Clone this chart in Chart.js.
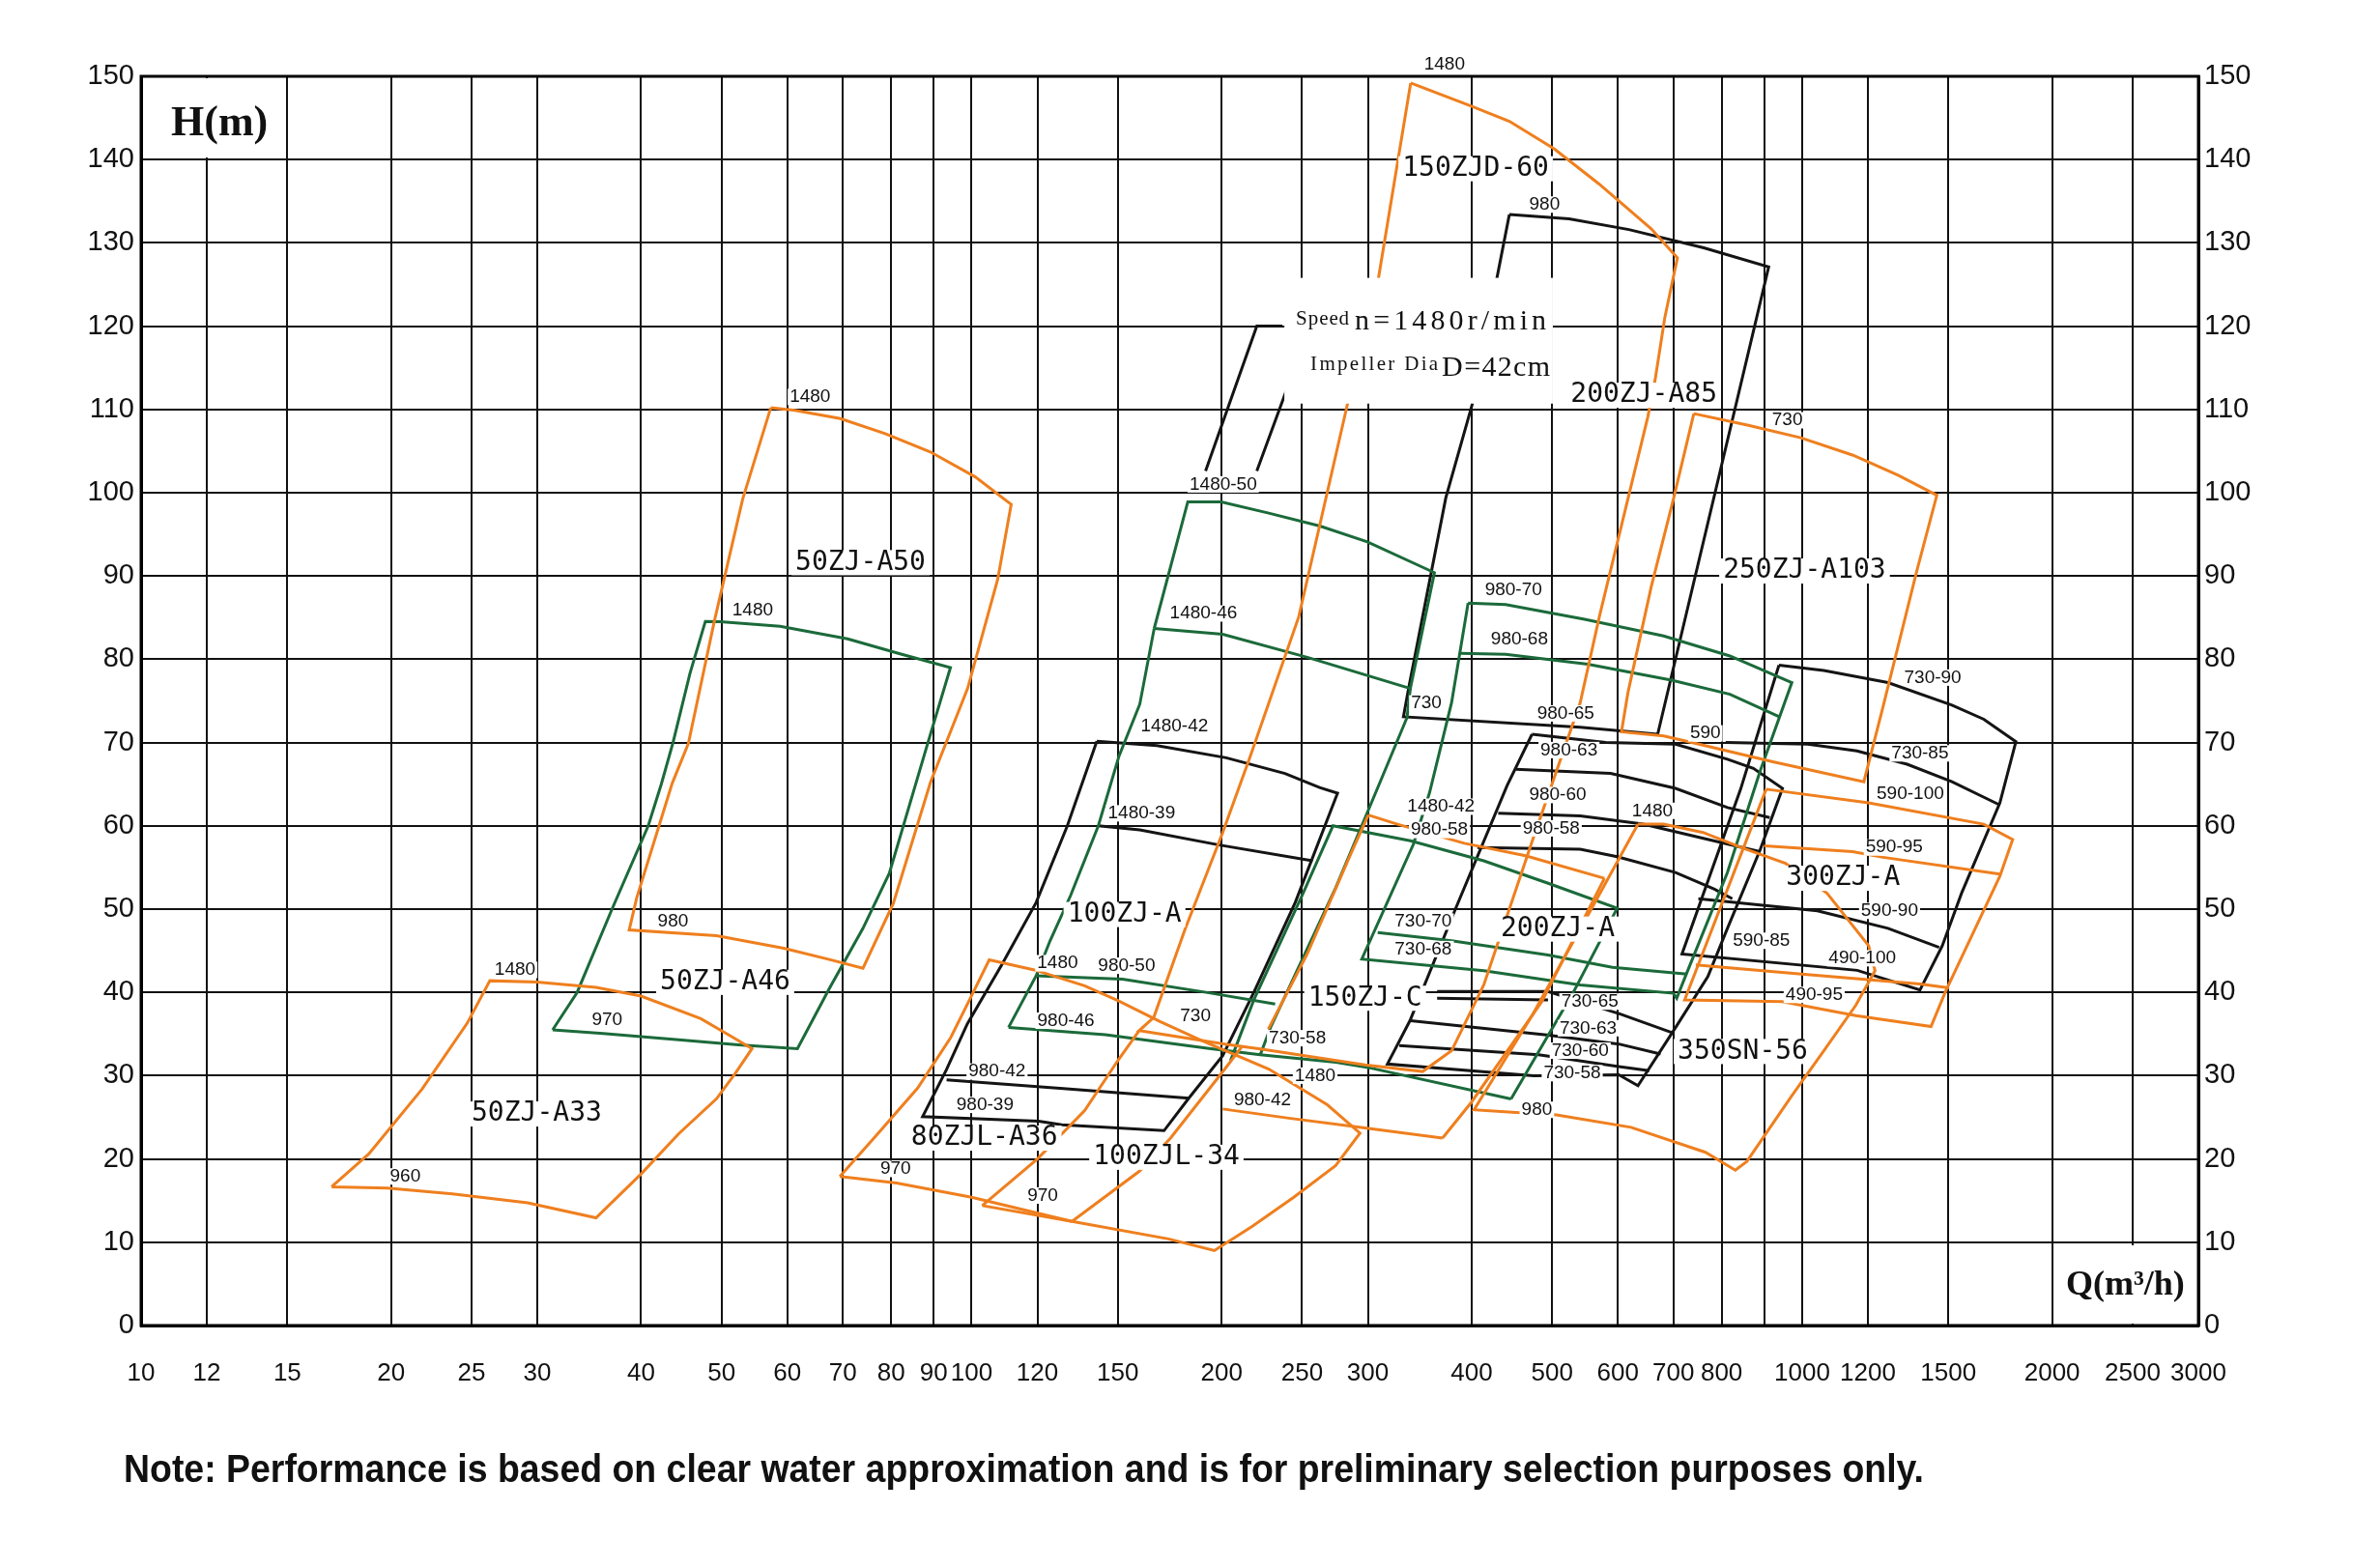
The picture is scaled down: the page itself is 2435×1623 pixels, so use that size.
<!DOCTYPE html>
<html>
<head>
<meta charset="utf-8">
<script src="https://cdn.jsdelivr.net/npm/chart.js@4.4.1/dist/chart.umd.min.js"></script>
<style>
  html, body { margin: 0; padding: 0; background: #fff; }
  #wrap { width: 2435px; height: 1623px; position: relative; }
</style>
</head>
<body>
<div id="wrap"><canvas id="pumpChart"></canvas></div>
<script>
// grid / tick values
const Q_GRID = [10,12,15,20,25,30,40,50,60,70,80,90,100,120,150,200,250,300,400,500,600,700,800,900,1000,1200,1500,2000,2500,3000];
const Q_LABELS = [10,12,15,20,25,30,40,50,60,70,80,90,100,120,150,200,250,300,400,500,600,700,800,1000,1200,1500,2000,2500,3000];

// ---- orange envelopes [Q m3/h, H m] ----
const O_50ZJ_A33 = [[16.96,16.65],[18.8,20.6],[21.8,28.4],[24.7,36.3],[26.3,41.4],[29.95,41.24],[35.3,40.6],[40.0,39.56],[47.2,36.85],[51.3,34.75],[54.4,33.25],[51.9,30.24],[49.3,27.23],[44.4,23.03],[40.0,18.2],[35.3,12.93],[29.2,14.73],[23.7,15.8],[19.8,16.5],[16.96,16.65]];
const O_50ZJ_A50 = [[57.3,110.2],[61.3,109.9],[69.5,108.9],[78.7,107.1],[89.2,104.9],[101,101.9],[111.6,98.6],[107.5,89.6],[98.9,76.5],[89.2,65.2],[80.5,50.7],[74.0,42.9],[67.4,43.95],[59.4,45.3],[49.3,46.8],[38.7,47.5],[39.5,51.3],[43.6,65.1],[45.6,69.9],[49.0,84.55],[53.0,99.2],[57.3,110.2]];
const O_80ZJL = [[69.4,17.9],[76.6,22.7],[86.1,28.5],[94.4,34.6],[100,39.6],[105,43.9],[119,42.7],[136.8,40.8],[150.2,39.0],[168.6,36.5],[189.3,34.2],[227.9,30.8],[268.1,26.5],[293.5,23.1],[274.4,19.2],[244.3,15.4],[217.6,11.9],[196,9.0],[172.6,10.4],[132.1,12.5],[100,15.4],[81.2,17.1],[69.4,17.9]];
const O_100ZJL_LEFT = [[103,14.4],[120,20.0],[136.8,25.8],[150.2,31.9],[159.1,35.4]];
const O_100ZJL_BOTTOM = [[103,14.4],[132.1,12.5]];
const O_100ZJL_RIGHT = [[132.1,12.5],[159.1,18.5],[173.6,22.5],[201.8,30.8],[212,33.6]];
const O_150ZJD_60 = [[337.8,149.2],[400.4,146.4],[444.1,144.6],[502.8,141.3],[569.1,137.1],[658.1,131.7],[707.7,128.2],[683.3,121.0],[665.1,113.5],[651.9,109.1],[570.2,85.2],[540.5,74.8],[472.9,58.1],[413.7,40.9],[378.4,33.0],[349.2,30.5],[297.6,31.3],[222.7,33.2],[201.8,33.8],[159.1,35.4],[165.7,37.0],[180.6,47.5],[200.6,59.2],[216.6,68.4],[247.7,85.1],[283.6,110.7],[309,125.8],[337.8,149.2]];
const O_150C_TOP = [[300.4,61.3],[325.6,60.2],[392,57.9],[464.5,56.4],[578,53.7]];
const O_150C_RIGHT = [[578,53.7],[486,38.9],[399.7,26.8],[369,22.5]];
const O_150C_LEFT = [[227.7,35.6],[253.5,44.6],[287.2,57.0],[300.4,61.3]];
const O_980_42 = [[200.6,26.0],[240.9,24.9],[293,23.8],[369,22.5]];
const O_200ZJ_A = [[634.4,60.2],[681,60.2],[760,59.2],[844,57.4],[954.8,55.5],[1071.5,51.9],[1202.5,45.6],[1224,42.6],[1160.5,38.45],[1062,33.0],[971.9,27.6],[858,19.7],[831,18.65],[765,20.8],[622.3,23.8],[506.1,25.3],[447.3,25.6],[402.7,25.9],[472.9,37.2],[540.5,47.6],[601.5,56.0],[634.4,60.2]];
const O_590_95 = [[900,57.6],[1150.2,56.9],[1246.1,56.25],[1730.2,54.2]];
const O_300ZJ_A = [[905.1,64.4],[1202.5,62.75],[1654.7,60.2],[1792.6,58.35],[1730.2,53.95],[1488,40.1],[1429.6,35.9],[1160.5,37.2],[946.2,38.9],[722,39.1],[905.1,64.4]];
const O_490_100 = [[744.7,43.3],[998.2,42.2],[1386.5,41.0],[1501.5,40.55]];
const O_250ZJ_A103 = [[740.6,109.5],[861.7,108.1],[996.3,106.6],[1151.8,104.5],[1304.7,102.1],[1452.8,99.7],[1373.4,90.5],[1251.4,74.3],[1186.7,65.3],[922,67.7],[744.7,69.9],[681.3,70.8],[606,71.3],[617,76.0],[658.1,88.7],[700.6,99.4],[740.6,109.5]];

// ---- green envelopes ----
const G_50ZJ_A46 = [[31.3,35.5],[36.0,35.05],[44.4,34.3],[52.4,33.7],[61.7,33.25],[67.4,40.46],[74.0,47.7],[79.6,54.3],[88.6,70],[94.3,79.0],[82.0,80.66],[70.9,82.46],[58.8,83.95],[49.8,84.5],[47.8,84.55],[45.8,78.3],[43.7,70],[42.3,65],[40.8,60],[36.9,50],[33.5,40],[31.3,35.5]];
const G_1480_50 = [[165.9,83.7],[182.1,98.9],[199.8,98.9],[227.9,97.55],[262.7,96.0],[299.6,94.1],[360.8,90.4],[337.5,76.5],[254.2,80.2],[200.6,83.0],[165.9,83.7]];
const G_LEFT = [[165.9,83.7],[159.4,74.6],[150.5,68.4],[142.1,60.0],[131.6,51.65],[124.3,46.2],[119.6,42.0],[110.8,35.8]];
const G_980_46 = [[110.8,35.8],[144.9,34.93],[193.1,33.26],[222.6,32.5],[274.6,31.6],[302.8,30.9],[446.2,27.2]];
const G_980_50 = [[119.6,42.0],[152.0,41.6],[193.1,39.95],[232,38.6]];
const G_RIGHT = [[337.5,76.5],[334.4,73.0],[311.4,65.6],[274.5,52.6],[229.3,35.9],[222.6,32.5]];
const G_1480_42 = [[205,31.8],[218.7,39.1],[233.9,45.4],[250,51.65],[272.3,60.0],[337.5,58.2],[413.7,55.8],[494.5,53.1],[598.8,50.1],[530.9,40.1],[446.2,27.2]];
const G_980_70 = [[396.1,86.75],[439.5,86.56],[547.1,84.8],[681,82.8],[818.5,80.4],[971.9,77.2],[889.6,66.5],[813,54.4],[723.3,41.9],[706.3,39.3],[699.8,39.9],[540.5,40.9],[413.7,42.6],[295,44.0],[340.4,57.8],[356,64.0],[378.4,74.8],[396.1,86.75]];
const G_980_68 = [[387.6,80.7],[439.5,80.6],[552,79.4],[696,77.5],[818.5,75.8],[938.6,73.1]];
const G_730_70 = [[308.3,47.2],[378.4,46.2],[494.3,44.5],[590.9,43.0],[727,42.2]];

// ---- black envelopes ----
const K_100ZJ_A = [[141.5,70.17],[167.2,69.63],[202.6,68.17],[238.4,66.29],[262.4,64.61],[275.8,63.92],[245.3,50.8],[218.7,40.0],[200.6,32.4],[182.3,27.2],[170.5,23.4],[128.4,24.1],[120.4,24.54],[87.3,25.08],[93.3,30.75],[98.8,36.2],[108.7,43.3],[119.6,50.8],[130.4,60.0],[141.5,70.17]];
const K_1480_39 = [[142.1,60.0],[159.4,59.5],[198.7,57.7],[257.4,55.8]];
const K_980_42 = [[93.3,29.5],[129,28.46],[182.8,27.3]];
const K_200ZJ_A85 = [[444.1,133.4],[524.1,132.9],[618.6,131.6],[761.3,129.4],[911.4,127.1],[670,71.0],[540.5,71.85],[331.1,73.1],[335.7,76.4],[372.4,99.4],[400.4,110.5],[444.1,133.4]];
const K_730_85 = [[809,70.0],[1016,69.8],[1164,69.0],[1337.7,67.4],[1514.9,65.3],[1730.2,62.5]];
const K_300ZJ_A = [[937.8,79.3],[1061.9,78.66],[1268.5,77.2],[1514.9,74.5],[1654.7,72.8],[1808.8,70.1],[1730.2,62.75],[1555.7,51.9],[1474.9,45.6],[1386.5,40.3],[1165,42.65],[716.7,44.6],[843.2,64.4],[937.8,79.3]];
const K_590_90 = [[750,51.25],[1043.3,49.8],[1268.5,47.7],[1462.1,45.4]];
const K_200ZJ_A = [[472.9,71.0],[580,70.0],[704,69.8],[813,68.0],[873.6,66.9],[947,64.5],[890,57.1],[813,47.7],[770,41.9],[704.3,35.8],[634.4,28.8],[601.5,30.1],[475,30.0],[316.7,31.4],[337.1,36.6],[382.4,50.0],[441.2,64.8],[472.9,71.0]];
const K_980_63 = [[452,66.8],[588,66.3],[704,64.5],[813,62.2],[914,61.0]];
const K_980_60 = [[430.6,61.5],[540.5,61.2],[643.5,60.2],[791.3,58.1],[889.6,56.9]];
const K_980_58 = [[406.4,57.4],[540.5,57.2],[598.9,56.3],[704,54.4],[784.3,52.4],[824,51.25]];
const K_730_65 = [[363.5,40.1],[494.3,40.1],[604,37.4],[700,35.1]];
const K_730_65B = [[363.5,39.3],[494.3,39.1]];
const K_730_63 = [[337.7,36.6],[492.6,34.9],[601.6,33.8],[675.4,32.6]];
const K_730_60 = [[327.3,33.6],[481.8,32.5],[601.6,31.1],[654.6,30.6]];
const K_LEADER_1 = [[236.7,120],[220.5,120],[191.3,102.6]];
const K_LEADER_2 = [[250.2,115.1],[244.7,114.9],[220.5,102.6]];

// ---- text labels [text, Q, H] ----
const MODEL_LABELS = [
  ['50ZJ-A50',73.5,91.6],['50ZJ-A46',50.5,41.2],['50ZJ-A33',29.95,25.4],
  ['100ZJ-A',152.8,49.35],['80ZJL-A36',103.6,22.5],['100ZJL-34',171.6,20.2],
  ['150ZJ-C',297.7,39.3],['200ZJ-A',507.8,47.6],['350SN-56',848.3,32.9],
  ['300ZJ-A',1120.2,53.7],['250ZJ-A103',1006.7,90.6],['200ZJ-A85',644.8,111.7],
  ['150ZJD-60',404.5,138.9]
];
const SPEED_LABELS = [
  ['1480',28.2,42.7],['960',20.8,17.9],['1480',54.5,85.9],['970',36.4,36.7],
  ['1480',63.9,111.5],['980',43.7,48.5],['1480-42',175.5,71.9],['1480-39',160.2,61.5],
  ['980-42',107.3,30.5],['980-39',103.8,26.5],['1480',126.9,43.5],['980-50',153.7,43.2],
  ['980-46',129.9,36.6],['970',81,18.8],['970',121.8,15.6],['730',186,37.1],
  ['730-58',246.8,34.5],['1480',259.2,30.0],['980-42',224,27.0],['1480-50',200.9,101.0],
  ['1480-46',190.2,85.5],['1480-42',367.4,62.3],['980-58',365.8,59.5],['730',352.8,74.7],
  ['730-70',349.8,48.5],['730-68',349.8,45.2],['980-70',449.2,88.3],['980-68',456.7,82.4],
  ['980-65',519.2,73.5],['980-63',523.9,69.1],['980-60',507.8,63.7],['980-58',498.8,59.7],
  ['1480',660.3,61.8],['730-65',555.1,38.9],['730-63',552.6,35.7],['730-60',540.5,33.0],
  ['730-58',528.6,30.3],['980',479.3,25.9],['980',489.6,134.6],['1480',371,151.4],
  ['730',959.8,108.7],['590',764.6,71.1],['730-90',1436.4,77.8],['730-85',1386.5,68.7],
  ['590-100',1349.9,63.8],['590-95',1291.1,57.4],['590-90',1274.2,49.8],['490-100',1181.5,44.1],
  ['490-95',1034,39.7],['590-85',893.3,46.2]
];

const ORANGE = '#ef7f1e';
const GREEN = '#1b6a3a';
const BLACK = '#141414';

const SERIES = [
  [O_50ZJ_A33, ORANGE],[O_50ZJ_A50, ORANGE],[O_80ZJL, ORANGE],[O_100ZJL_LEFT, ORANGE],
  [O_100ZJL_BOTTOM, ORANGE],[O_100ZJL_RIGHT, ORANGE],[O_150ZJD_60, ORANGE],[O_150C_TOP, ORANGE],
  [O_150C_RIGHT, ORANGE],[O_150C_LEFT, ORANGE],[O_980_42, ORANGE],
  [O_200ZJ_A, ORANGE],[O_590_95, ORANGE],[O_300ZJ_A, ORANGE],[O_490_100, ORANGE],[O_250ZJ_A103, ORANGE],
  [G_50ZJ_A46, GREEN],[G_1480_50, GREEN],[G_LEFT, GREEN],[G_980_46, GREEN],[G_980_50, GREEN],
  [G_RIGHT, GREEN],[G_1480_42, GREEN],[G_980_70, GREEN],[G_980_68, GREEN],[G_730_70, GREEN],
  [K_100ZJ_A, BLACK],[K_1480_39, BLACK],[K_980_42, BLACK],[K_200ZJ_A85, BLACK],[K_730_85, BLACK],
  [K_300ZJ_A, BLACK],[K_590_90, BLACK],[K_200ZJ_A, BLACK],[K_980_63, BLACK],[K_980_60, BLACK],
  [K_980_58, BLACK],[K_730_65, BLACK],[K_730_65B, BLACK],[K_730_63, BLACK],[K_730_60, BLACK],
  [K_LEADER_1, BLACK],[K_LEADER_2, BLACK]
];

function spaced(ctx, text, x0, y, width) {
  const chars = [...text];
  const ws = chars.map(c => ctx.measureText(c).width);
  const total = ws.reduce((a, b) => a + b, 0);
  const gap = chars.length > 1 ? (width - total) / (chars.length - 1) : 0;
  let x = x0;
  ctx.textAlign = 'left';
  chars.forEach((c, i) => { ctx.fillText(c, x, y); x += ws[i] + gap; });
}

function tag(ctx, text, x, y, font, padX, boxH) {
  ctx.font = font;
  const w = ctx.measureText(text).width;
  ctx.fillStyle = '#fff';
  ctx.fillRect(x - w / 2 - padX, y - boxH / 2, w + 2 * padX, boxH);
  ctx.fillStyle = '#111';
  ctx.textAlign = 'center';
  ctx.textBaseline = 'middle';
  ctx.fillText(text, x, y);
}

const boxesPlugin = {
  id: 'boxesPlugin',
  beforeDatasetsDraw(chart) {
    const { ctx, chartArea: a } = chart;
    ctx.save();
    ctx.fillStyle = '#fff';
    // blank corners behind the axis titles
    ctx.fillRect(a.left + 2, a.top + 2, 146, 82);
    ctx.fillRect(a.right - 146, a.bottom - 83, 144, 81);
    ctx.lineWidth = 3;
    ctx.strokeStyle = '#000';
    ctx.strokeRect(a.left, a.top, a.right - a.left, a.bottom - a.top);
    ctx.restore();
  }
};

const labelsPlugin = {
  id: 'labelsPlugin',
  afterDatasetsDraw(chart) {
    const { ctx, chartArea: a } = chart;
    const xs = chart.scales.x, ys = chart.scales.y;
    ctx.save();

    // speed / diameter note box
    const bx = xs.getPixelForValue(238), bx1 = xs.getPixelForValue(501);
    const by = ys.getPixelForValue(125.8), by1 = ys.getPixelForValue(110.7);
    ctx.fillStyle = '#fff';
    ctx.fillRect(bx, by, bx1 - bx, by1 - by);
    ctx.fillStyle = '#111';
    ctx.textBaseline = 'middle';
    ctx.font = '21px "Liberation Serif", serif';
    spaced(ctx, 'Speed', bx + 12, by + 43, 55);
    spaced(ctx, 'Impeller Dia', bx + 27, by + 90, 132);
    ctx.font = '30px "Liberation Serif", serif';
    spaced(ctx, 'n=1480r/min', bx + 73, by + 46, 198);
    spaced(ctx, 'D=42cm', bx + 163, by + 94, 112);

    SPEED_LABELS.forEach(([t, q, h]) => {
      tag(ctx, t, xs.getPixelForValue(q), ys.getPixelForValue(h), '19px "Liberation Sans", Arial, sans-serif', 2, 17);
    });
    MODEL_LABELS.forEach(([t, q, h]) => {
      tag(ctx, t, xs.getPixelForValue(q), ys.getPixelForValue(h), '28px "DejaVu Sans Mono", monospace', 4, 26);
    });

    // axis titles inside the frame
    ctx.fillStyle = '#111';
    ctx.textAlign = 'left';
    ctx.textBaseline = 'middle';
    ctx.font = 'bold 44px "Liberation Serif", serif';
    ctx.fillText('H(m)', a.left + 31, a.top + 50);
    ctx.font = 'bold 36px "Liberation Serif", serif';
    ctx.fillText('Q(m\u00b3/h)', a.right - 137, a.bottom - 41);

    // footnote
    const note = 'Note: Performance is based on clear water approximation and is for preliminary selection purposes only.';
    ctx.font = 'bold 40px "Liberation Sans", Arial, sans-serif';
    const nw = ctx.measureText(note).width;
    ctx.translate(128, 1523);
    ctx.scale(1863 / nw, 1);
    ctx.fillText(note, 0, 0);
    ctx.restore();
  }
};

const datasets = SERIES.map(([pts, color]) => ({
  data: pts.map(([q, h]) => ({ x: q, y: h })),
  borderColor: color,
  backgroundColor: color,
  borderWidth: 3,
  pointRadius: 0,
  showLine: true,
  fill: false,
  tension: 0
}));

const tickFont = { family: '"Liberation Sans Narrow", "Liberation Sans", Arial, sans-serif', size: 29 };

new Chart(document.getElementById('pumpChart'), {
  type: 'scatter',
  data: { datasets },
  options: {
    responsive: true,
    maintainAspectRatio: false,
    devicePixelRatio: 1,
    animation: false,
    layout: { padding: { top: 79, left: 0, right: 0, bottom: 0 } },
    plugins: { legend: { display: false }, tooltip: { enabled: false } },
    scales: {
      x: {
        type: 'logarithmic',
        min: 10, max: 3000,
        afterBuildTicks: axis => { axis.ticks = Q_GRID.map(v => ({ value: v })); },
        afterFit: axis => { axis.height = 251; },
        ticks: {
          autoSkip: false, maxRotation: 0, padding: 34, color: '#111',
          font: { family: tickFont.family, size: 26 },
          callback: v => Q_LABELS.includes(v) ? String(v) : ''
        },
        grid: { color: '#111', lineWidth: 2, drawTicks: false },
        border: { color: '#000', width: 3 }
      },
      y: {
        min: 0, max: 150,
        afterFit: axis => { axis.width = 146; },
        ticks: { stepSize: 10, padding: 7, color: '#111', font: tickFont },
        grid: { color: '#111', lineWidth: 2, drawTicks: false },
        border: { color: '#000', width: 3 }
      },
      y2: {
        position: 'right',
        min: 0, max: 150,
        afterFit: axis => { axis.width = 160; },
        ticks: { stepSize: 10, padding: 6, color: '#111', font: tickFont },
        grid: { display: false, drawTicks: false },
        border: { color: '#000', width: 3 }
      }
    }
  },
  plugins: [boxesPlugin, labelsPlugin]
});
</script>
</body>
</html>
